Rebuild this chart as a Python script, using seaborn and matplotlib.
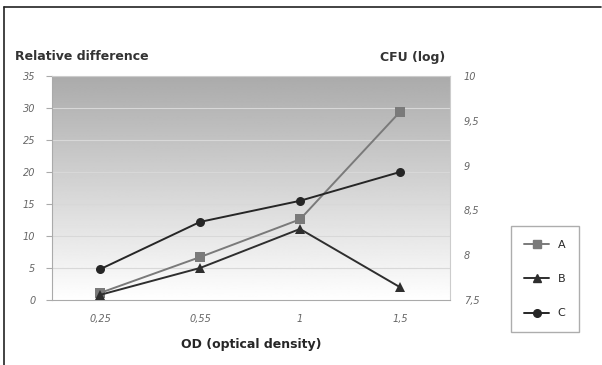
import numpy as np
import pandas as pd
import matplotlib
matplotlib.use('Agg')
import matplotlib.pyplot as plt
import seaborn as sns
from matplotlib.lines import Line2D

# Dados
od_labels = ['0,25', '0,55', '1', '1,5']
serie_a = [1.1, 6.7, 12.6, 29.4]
serie_b = [0.8, 5.0, 11.1, 2.0]
serie_c = [4.8, 12.2, 15.5, 20.0]
left_ticks = [0, 5, 10, 15, 20, 25, 30, 35]
right_ticks = [7.5, 8, 8.5, 9, 9.5, 10]
right_labels = ['7,5', '8', '8,5', '9', '9,5', '10']

df = pd.DataFrame({
    'od': od_labels * 3,
    'valor': serie_a + serie_b + serie_c,
    'serie': ['A'] * 4 + ['B'] * 4 + ['C'] * 4,
})

sns.set_style('white')
plt.rcParams['font.family'] = ['DejaVu Sans']

fig = plt.figure(figsize=(6.02, 3.65), dpi=100)
ax = fig.add_axes([52 / 602, 1 - 300 / 365, 398 / 602, 224 / 365])

# Fundo em degradê (cinza em cima, branco embaixo)
grad = 1 - np.linspace(0, 1, 256).reshape(-1, 1)
ax.imshow(grad, cmap=plt.cm.gray, vmin=-2.0, vmax=1.0, aspect='auto',
          extent=[-0.48, 3.5, 0, 35], origin='lower', zorder=0)

for t in left_ticks[1:]:
    ax.axhline(t, color='#d8d8d8', lw=0.8, zorder=1)

cores = {'A': '#7a7a7a', 'B': '#2e2e2e', 'C': '#262626'}
marcadores = {'A': 's', 'B': '^', 'C': 'o'}
sns.lineplot(data=df, x='od', y='valor', hue='serie', style='serie',
             palette=cores, markers=marcadores, dashes=False, lw=1.4,
             markersize=6.5, markeredgewidth=0, ax=ax, legend=False, zorder=3,
             sort=False)

ax.set_xlim(-0.48, 3.5)
ax.set_ylim(0, 35)
ax.set_yticks(left_ticks)
ax.set_yticklabels([str(t) for t in left_ticks], fontsize=7, color='#666666',
                   style='italic')
ax.tick_params(axis='x', labelsize=7, labelcolor='#666666', pad=10, length=0)
for lab in ax.get_xticklabels():
    lab.set_style('italic')
ax.tick_params(axis='y', pad=8, length=4, width=0.8, color='#aaaaaa',
               direction='out', left=True)
ax.set_xlabel('OD (optical density)', fontsize=9, fontweight='bold', labelpad=10)
ax.set_ylabel('')
for s in ['top', 'right']:
    ax.spines[s].set_color('#cccccc')
for s in ['left', 'bottom']:
    ax.spines[s].set_color('#aaaaaa')

ax2 = ax.twinx()
ax2.set_ylim(7.5, 10)
ax2.set_yticks(right_ticks)
ax2.set_yticklabels(right_labels, fontsize=7, color='#666666', style='italic')
ax2.tick_params(axis='y', length=0, pad=10)
for s in ax2.spines.values():
    s.set_visible(False)

fig.text(15 / 602, 1 - 57 / 365, 'Relative difference', fontsize=9,
         fontweight='bold', va='center', color='#333333')
fig.text(445 / 602, 1 - 57 / 365, 'CFU (log)', fontsize=9,
         fontweight='bold', va='center', ha='right', color='#333333')

# Legenda
handles = [Line2D([0], [0], color=cores[k], marker=marcadores[k], lw=1.4,
                  markersize=5.5) for k in ['A', 'B', 'C']]
leg = fig.legend(handles, ['A', 'B', 'C'], loc='center',
                 bbox_to_anchor=(545 / 602, 1 - 279 / 365), fontsize=8,
                 frameon=True, fancybox=False, edgecolor='#999999',
                 labelspacing=2.2, handlelength=2.2, borderpad=1.2)

# Moldura externa
fig.add_artist(Line2D([4 / 602, 601 / 602], [1 - 7 / 365, 1 - 7 / 365],
                      color='#222222', lw=1.2, transform=fig.transFigure))
fig.add_artist(Line2D([4 / 602, 4 / 602], [0, 1 - 7 / 365],
                      color='#222222', lw=1.2, transform=fig.transFigure))

fig.savefig('out.png', dpi=100)
